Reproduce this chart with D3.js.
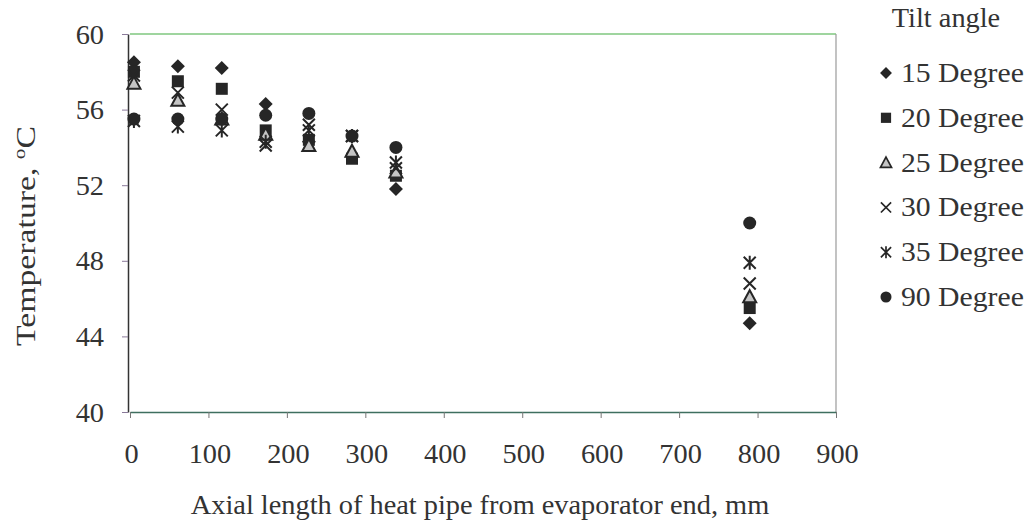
<!DOCTYPE html>
<html>
<head>
<meta charset="utf-8">
<script src="https://cdn.jsdelivr.net/npm/d3@7"></script>
<style>
  html, body { margin: 0; padding: 0; background: #fff; }
  svg text { font-family: "Liberation Serif", "Times New Roman", serif; fill: #333; }
</style>
</head>
<body>
<svg id="chart" width="1031" height="524"></svg>
<script>
// Axial positions of thermocouples (mm from evaporator end)
const positions = [5, 61, 117, 173, 228, 283, 339, 790];

// Wall temperature (°C) for each tilt angle
const temp15 = [58.5, 58.3, 58.2, 56.3, 54.3, 53.5, 51.8, 44.7];
const temp20 = [58.0, 57.5, 57.1, 54.9, 54.4, 53.4, 52.5, 45.5];
const temp25 = [57.4, 56.5, 55.5, 54.7, 54.1, 53.8, 52.7, 46.1];
const temp30 = [57.8, 56.9, 56.0, 54.1, 55.2, 54.6, 52.9, 46.8];
const temp35 = [55.4, 55.1, 54.9, 54.3, 54.9, 54.6, 53.2, 47.9];
const temp90 = [55.5, 55.5, 55.5, 55.7, 55.8, 54.6, 54.0, 50.0];

const seriesNames = ["15 Degree", "20 Degree", "25 Degree", "30 Degree", "35 Degree", "90 Degree"];
const seriesValues = [temp15, temp20, temp25, temp30, temp35, temp90];
const seriesMarkers = ["diamond", "square", "triangle", "cross", "asterisk", "circle"];

const xTicks = [0, 100, 200, 300, 400, 500, 600, 700, 800, 900];
const yTicks = [40, 44, 48, 52, 56, 60];

const legendTitle = "Tilt angle";
const xTitle = "Axial length of heat pipe from evaporator end, mm";

const svg = d3.select("#chart");
const plot = { left: 130, right: 836, top: 34, bottom: 412 };
const stretch = 1.05; // slightly wide typeface proportions
const fontSize = 27;

const x = d3.scaleLinear().domain([0, 900]).range([plot.left, plot.right]);
const y = d3.scaleLinear().domain([40, 60]).range([plot.bottom, plot.top]);

const ink = "#262626";

// marker shapes
function drawMarker(g, type, cx, cy, k = 1) {
  const m = g.append("g").attr("transform", `translate(${cx},${cy}) scale(${k})`);
  switch (type) {
    case "diamond":
      m.append("path").attr("d", "M0,-7L7,0L0,7L-7,0Z").attr("fill", ink);
      break;
    case "square":
      m.append("rect").attr("x", -6).attr("y", -6).attr("width", 12).attr("height", 12).attr("fill", ink);
      break;
    case "triangle":
      m.append("path").attr("d", "M0,-6.5L6.5,5.5L-6.5,5.5Z")
        .attr("fill", "#c4c4c4").attr("stroke", ink).attr("stroke-width", 2);
      break;
    case "cross":
      m.append("path").attr("d", "M-6,-6L6,6M6,-6L-6,6")
        .attr("stroke", ink).attr("stroke-width", 2).attr("fill", "none");
      break;
    case "asterisk":
      m.append("path").attr("d", "M-6,-6L6,6M6,-6L-6,6M0,-7L0,7")
        .attr("stroke", ink).attr("stroke-width", 2).attr("fill", "none");
      break;
    case "circle":
      m.append("circle").attr("r", 6.5).attr("fill", ink);
      break;
  }
}

// stretched text helper
function label(g, txt, tx, ty, anchor, size, sx = stretch) {
  return g.append("text")
    .attr("transform", `translate(${tx},${ty}) scale(${sx},1)`)
    .attr("text-anchor", anchor)
    .attr("font-size", size)
    .text(txt);
}

// plot frame
const frame = svg.append("g");
frame.append("line").attr("x1", plot.left).attr("x2", plot.right).attr("y1", plot.top).attr("y2", plot.top)
  .attr("stroke", "#7fc77f").attr("stroke-width", 1.5);
frame.append("line").attr("x1", plot.right).attr("x2", plot.right).attr("y1", plot.top).attr("y2", plot.bottom)
  .attr("stroke", "#9a9a9a").attr("stroke-width", 1.2);

// y axis
const yAxis = svg.append("g")
  .attr("transform", `translate(${plot.left - 2},0)`)
  .call(d3.axisLeft(y).tickValues(yTicks).tickSize(6).tickSizeOuter(0).tickPadding(0));
yAxis.select(".domain").attr("stroke", "#333").attr("stroke-width", 1.5);
yAxis.selectAll(".tick line").attr("stroke", "#8a7a9a");
yAxis.selectAll(".tick text").remove();
yAxis.selectAll(".tick").each(function (d) {
  label(d3.select(this), d, -24, 9, "end", fontSize);
});

// x axis
const xAxis = svg.append("g")
  .attr("transform", `translate(0,${plot.bottom})`)
  .call(d3.axisBottom(x).tickValues(xTicks).tickSize(6).tickSizeOuter(0));
xAxis.select(".domain").attr("stroke", "#3f6f5f").attr("stroke-width", 1.5);
xAxis.selectAll(".tick line").attr("stroke", "#777");
xAxis.selectAll(".tick text").remove();
xAxis.selectAll(".tick").each(function (d) {
  label(d3.select(this), d, 1, 51, "middle", fontSize);
});

// axis titles
label(svg, xTitle, (plot.left + plot.right) / 2 - 3, 514, "middle", fontSize);

const yt = svg.append("text")
  .attr("transform", `translate(35,236) rotate(-90) scale(1.25,1)`)
  .attr("text-anchor", "middle")
  .attr("font-size", fontSize);
yt.append("tspan").text("Temperature, ");
yt.append("tspan").attr("font-size", 17).attr("dy", -10).text("o");
yt.append("tspan").attr("dy", 10).text("C");

// data points, drawn series by series
const pts = svg.append("g");
seriesValues.forEach((vals, i) => {
  vals.forEach((v, j) => drawMarker(pts, seriesMarkers[i], x(positions[j]), y(v)));
});

// legend
const legend = svg.append("g");
label(legend, legendTitle, 946, 27, "middle", fontSize);
seriesNames.forEach((name, i) => {
  const ly = 73 + i * 44.8;
  drawMarker(legend, seriesMarkers[i], 886, ly, 0.85);
  label(legend, name, 901, ly + 9, "start", fontSize, 1.1);
});
</script>
</body>
</html>
